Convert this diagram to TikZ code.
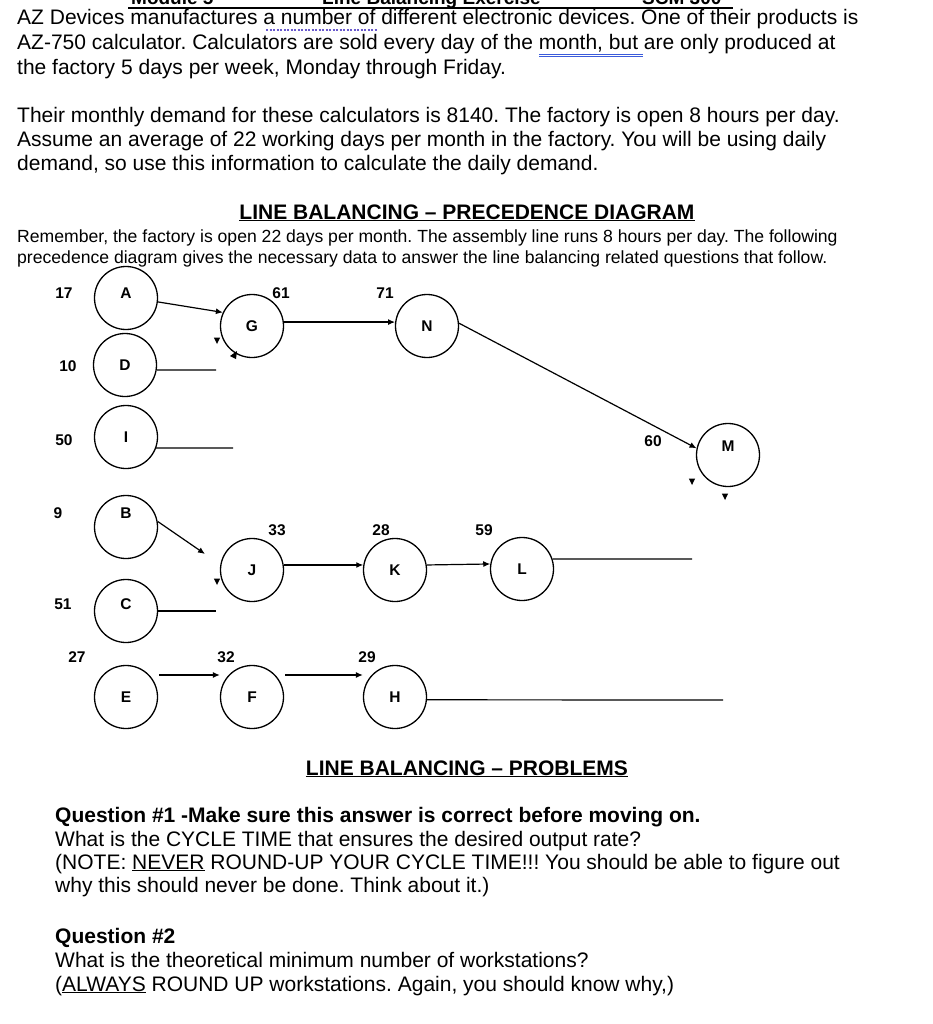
\documentclass[tikz,border=0pt]{standalone}
\usepackage{fontspec}
\setmainfont{Liberation Sans}
\usetikzlibrary{arrows.meta, positioning, calc}
\definecolor{spellblue}{HTML}{3B5BDB}
\definecolor{spellpurple}{HTML}{6A5ACD}
\newcommand\tipdn[1]{\fill #1 +(-3.2,-3.5) -- +(3.2,-3.5) -- +(0,3) -- cycle;}
\frenchspacing

\begin{document}
\begin{tikzpicture}[x=1pt, y=-1pt,
  task/.style={circle, draw, line width=1.3pt, minimum size=63pt, inner sep=0pt,
    font=\fontsize{15.5}{15.5}\selectfont\bfseries},
  num/.style={font=\fontsize{15.5}{15.5}\selectfont\bfseries, inner sep=0pt},
  txt/.style={anchor=base west, inner sep=0pt, font=\fontsize{21}{25}\selectfont},
  note/.style={anchor=base west, inner sep=0pt, font=\fontsize{17.6}{20}\selectfont},
  head/.style={anchor=base, inner sep=0pt, font=\fontsize{21}{23}\selectfont\bfseries},
  arr/.style={-{Latex[length=7pt,width=6pt]}, line width=1.2pt},
  lin/.style={line width=1.2pt},
]
  \fill[white] (0,0) rectangle (932,1024);
  \useasboundingbox (0,0) rectangle (932,1024);

  % page header, cut off at the top
  \node[anchor=base west, inner sep=0pt, font=\fontsize{19}{19}\selectfont\bfseries] (hdr1) at (131,5) {Module 5};
  \node[anchor=base west, inner sep=0pt, font=\fontsize{19}{19}\selectfont\bfseries] (hdr2) at (322,5) {Line Balancing Exercise};
  \node[anchor=base west, inner sep=0pt, font=\fontsize{19}{19}\selectfont\bfseries] (hdr3) at (642,5) {SCM 300};
  \draw[line width=2pt] (128,8) -- (733,8);

  % intro text
  \node[txt] (l1) at (17,25) {AZ Devices manufactures a number of different electronic devices. One of their products is};
  \node[txt] (l2) at (17,50) {AZ-750 calculator. Calculators are sold every day of the month, but are only produced at};
  \node[txt] (l3) at (17,75) {the factory 5 days per week, Monday through Friday.};
  \draw[spellpurple, line width=1.5pt, dash pattern=on 2pt off 1.5pt] (266,30) -- (378,30);
  \draw[spellblue, line width=0.8pt] (539,54.5) -- (643,54.5);
  \draw[spellblue, line width=0.8pt] (539,56.5) -- (643,56.5);

  \node[txt] (l4) at (17,123) {Their monthly demand for these calculators is 8140. The factory is open 8 hours per day.};
  \node[txt] (l5) at (17,147) {Assume an average of 22 working days per month in the factory. You will be using daily};
  \node[txt] (l6) at (17,171) {demand, so use this information to calculate the daily demand.};

  \node[head] (h1) at (467,219) {\underline{LINE BALANCING -- PRECEDENCE DIAGRAM}};
  \node[note] (r1) at (17,243) {Remember, the factory is open 22 days per month. The assembly line runs 8 hours per day. The following};
  \node[note] (r2) at (17,263) {precedence diagram gives the necessary data to answer the line balancing related questions that follow.};

  % tasks
  \node[task, text depth=10pt, text height=11pt] (A) at (126,298) {A};
  \node[task] (D) at (125,365) {D};
  \node[task] (I) at (126,437) {I};
  \node[task] (G) at (252,326) {G};
  \node[task] (N) at (427,326) {N};
  \node[task, text depth=18pt, text height=11pt] (M) at (728,455) {M};
  \node[task, text depth=28pt, text height=11pt] (B) at (126,527) {B};
  \node[task, text depth=14pt, text height=11pt] (C) at (126,611) {C};
  \node[task] (J) at (252,570) {J};
  \node[task] (K) at (395,570) {K};
  \node[task] (L) at (522,569) {L};
  \node[task] (E) at (126,697) {E};
  \node[task] (F) at (252,697) {F};
  \node[task] (H) at (395,697) {H};

  % task times
  \node[num] (tA) at (64,293) {17};
  \node[num] (tD) at (68,366) {10};
  \node[num] (tI) at (64,440) {50};
  \node[num] (tG) at (281,293) {61};
  \node[num] (tN) at (385,293) {71};
  \node[num] (tM) at (653,441) {60};
  \node[num] (tB) at (58,513) {9};
  \node[num] (tC) at (63,604) {51};
  \node[num] (tJ) at (277,530) {33};
  \node[num] (tK) at (381,530) {28};
  \node[num] (tL) at (484,530) {59};
  \node[num] (tE) at (77,657) {27};
  \node[num] (tF) at (226,657) {32};
  \node[num] (tH) at (367,657) {29};

  % loose ends
  \coordinate (d-end) at (216,370);
  \coordinate (i-end) at (233,448);
  \coordinate (bj-end) at (205,554);
  \coordinate (c-end) at (216,611);
  \coordinate (l-end) at (692,559);
  \coordinate (h-end) at (723,700);

  % precedence
  \draw[arr] (A.-7) -- (G.155);
  \draw[lin] (D.-9) -- (d-end);
  \draw[lin] (I.-20) -- (i-end);
  \draw[arr] (G.7) -- (N.173);
  \draw[arr] (N.5) -- (M.168);
  \draw[arr] (B.10) -- (bj-end);
  \draw[lin] (C.east) -- (c-end);
  \draw[arr] (J.9) -- (K.171);
  \draw[arr] (K.9) -- (L.171);
  \draw[lin] (L.18) -- (l-end);
  \draw[arr] ($(E.east)+(1,-22)$) -- ($(F.west)+(0,-22)$);
  \draw[arr] ($(F.east)+(1,-22)$) -- ($(H.west)+(0,-22)$);
  \draw[lin] (H.-5) -- (h-end);

  % stray arrow tips
  \tipdn{(217,341)}
  \fill (230,356) -- (237,351) -- (236,359) -- cycle;
  \tipdn{(217,582)}
  \tipdn{(692,482)}
  \tipdn{(725,497)}

  % questions
  \node[head] (h2) at (467,775) {\underline{LINE BALANCING -- PROBLEMS}};
  \node[txt, font=\fontsize{21}{25}\selectfont\bfseries] (q1) at (55,822) {Question \#1 -Make sure this answer is correct before moving on.};
  \node[txt] (q1a) at (55,846) {What is the CYCLE TIME that ensures the desired output rate?};
  \node[txt] (q1b) at (55,869) {(NOTE: \underline{NEVER} ROUND-UP YOUR CYCLE TIME!!! You should be able to figure out};
  \node[txt] (q1c) at (55,892) {why this should never be done. Think about it.)};
  \node[txt, font=\fontsize{21}{25}\selectfont\bfseries] (q2) at (55,943) {Question \#2};
  \node[txt] (q2a) at (55,967) {What is the theoretical minimum number of workstations?};
  \node[txt] (q2b) at (55,991) {(\underline{ALWAYS} ROUND UP workstations. Again, you should know why,)};
\end{tikzpicture}
\end{document}
